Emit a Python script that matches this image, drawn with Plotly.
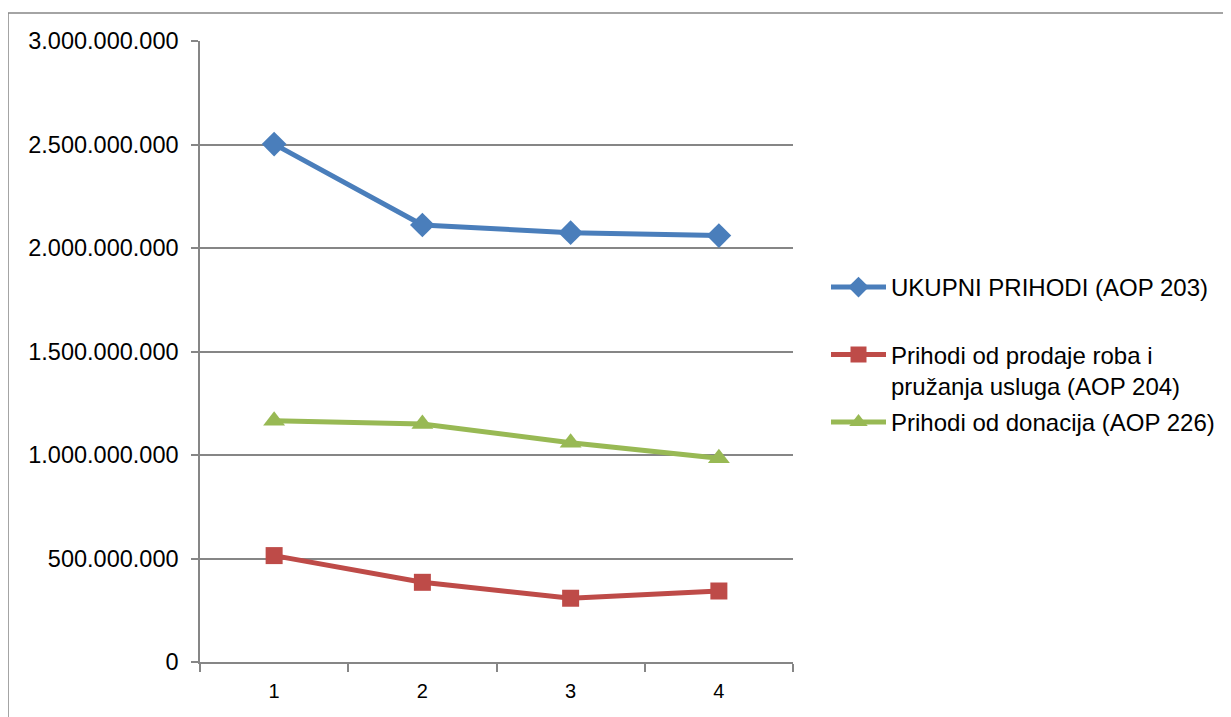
import plotly.graph_objects as go

categories = ["1", "2", "3", "4"]
ukupni = [2502000000, 2111000000, 2074000000, 2060000000]
prodaja = [514000000, 385000000, 308000000, 343000000]
donacije = [1166000000, 1150000000, 1059000000, 984000000]
y_ticks = [0, 500000000, 1000000000, 1500000000, 2000000000, 2500000000, 3000000000]

names = ["UKUPNI PRIHODI (AOP 203)<br> ",
         "Prihodi od prodaje roba i<br>pružanja usluga (AOP 204)",
         "Prihodi od donacija (AOP 226)"]

W, H = 1231, 717
OFF = 8  # page body margin offset
L, R, T, B = 200 - OFF, 793 - OFF, 41 - OFF, 662 - OFF

fig = go.Figure()
fig.add_trace(go.Scatter(x=categories, y=ukupni, name=names[0], mode="lines+markers",
                         line=dict(color="#4A7EBB", width=5),
                         marker=dict(symbol="diamond", size=19, color="#4A7EBB"),
                         legendgroup="a"))
fig.add_trace(go.Scatter(x=categories, y=prodaja, name=names[1], mode="lines+markers",
                         line=dict(color="#BE4B48", width=5),
                         marker=dict(symbol="square", size=17, color="#BE4B48"),
                         legendgroup="b"))
fig.add_trace(go.Scatter(x=categories, y=donacije, name=names[2], mode="lines+markers",
                         line=dict(color="#98B954", width=5),
                         marker=dict(symbol="triangle-up", size=19, color="#98B954"),
                         legendgroup="c"))

font = "Liberation Sans, Arial, sans-serif"
fig.update_layout(
    width=W, height=H,
    margin=dict(l=L, r=W - R, t=T, b=H - B, autoexpand=False),
    paper_bgcolor="white", plot_bgcolor="white",
    separators=",.",
    font=dict(family=font, size=24, color="black"),
    showlegend=True,
    legend=dict(x=(826 - OFF - L) / (R - L), xanchor="left",
                y=(B - (265 - OFF)) / (B - T), yanchor="top",
                font=dict(size=24, family=font), valign="top",
                tracegroupgap=2, itemwidth=55, bgcolor="rgba(0,0,0,0)"),
    xaxis=dict(type="category", tickson="boundaries", ticks="outside", ticklen=8,
               tickcolor="#868686", tickwidth=1.5, showgrid=False,
               showline=True, linecolor="#868686", linewidth=1.5,
               ticklabelstandoff=10,
               tickfont=dict(size=20, family=font), range=[-0.5, 3.5]),
    yaxis=dict(range=[0, 3000000000], tickvals=y_ticks, tickformat=",d",
               ticks="outside", ticklen=7, tickcolor="#868686", tickwidth=1.5,
               showgrid=True, gridcolor="#868686", gridwidth=1.5,
               showline=True, linecolor="#868686", linewidth=1.5,
               ticklabelstandoff=8,
               zeroline=False, tickfont=dict(size=23.5, family=font)),
)

# outer chart frame
fig.add_shape(type="rect", xref="paper", yref="paper",
              x0=(8 - OFF - L) / (R - L), x1=(1230 - OFF - L) / (R - L),
              y0=(B - 730) / (B - T), y1=(B - (13 - OFF)) / (B - T),
              line=dict(color="#878787", width=1.5), fillcolor="rgba(0,0,0,0)", layer="below")

fig.write_html("out.html")
